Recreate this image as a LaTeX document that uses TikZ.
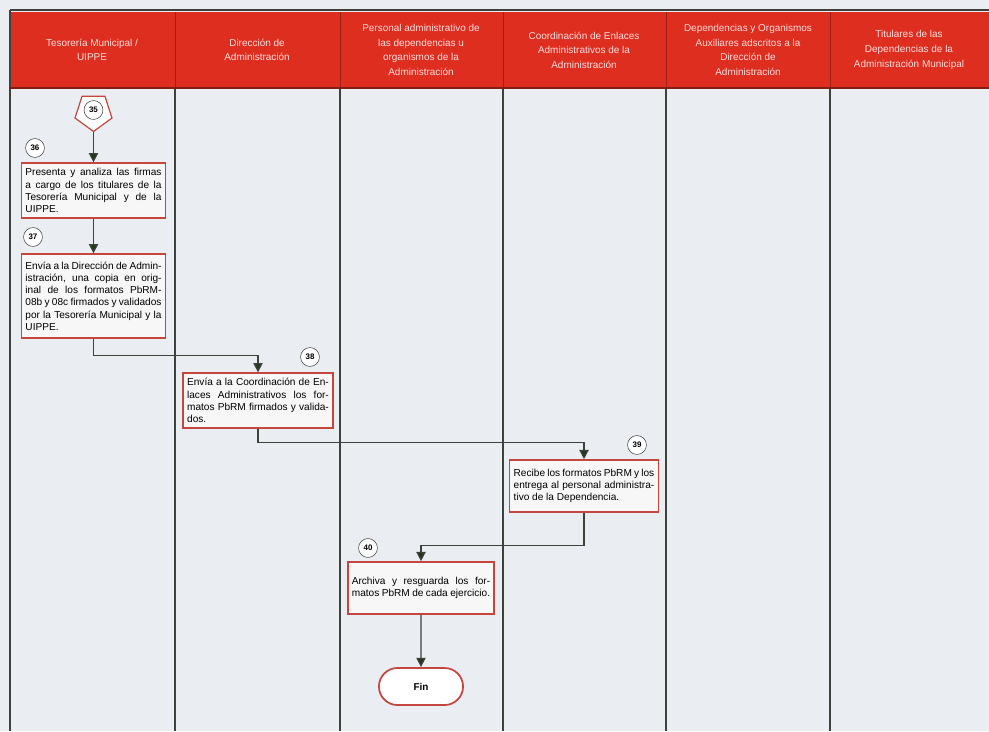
\documentclass[tikz,border=0pt]{standalone}
\usepackage{fontspec}
\setmainfont{Liberation Sans}
\usetikzlibrary{arrows.meta,shapes.geometric,shapes.misc}
\definecolor{hdrred}{RGB}{222,46,32}
\definecolor{boxred}{RGB}{196,70,60}
\definecolor{fondo}{RGB}{234,237,242}
\definecolor{linea}{RGB}{62,64,60}
\definecolor{flecha}{RGB}{32,56,24}
\begin{document}
\begin{tikzpicture}[x=0.02646cm,y=-0.02646cm,
  paso/.style={draw=boxred,line width=1.1pt,fill=white!94!gray,text width=3.6cm,inner sep=3pt,align=justify,font=\fontsize{7.6}{9.2}\selectfont},
  num/.style={circle,draw=linea,fill=white,inner sep=0pt,minimum size=0.5cm,font=\fontsize{6}{6}\selectfont\bfseries},
  flujo/.style={draw=linea,line width=1pt,-{Triangle[length=7pt,width=7pt,fill=flecha]}}]
\fill[fondo] (0,0) rectangle (989,731);
\useasboundingbox (0,0) rectangle (989,731);
\fill[hdrred] (10,12) rectangle (989,88);
\draw[linea,line width=0.8pt] (10,10) -- (989,10) (10,10) -- (10,731);
\foreach \x in {175,340,503,666,830} {\draw[hdrred!70!black] (\x,12) -- (\x,88); \draw[linea,line width=0.8pt] (\x,88) -- (\x,731);}
\draw[hdrred!60!black,line width=1pt] (10,88) -- (989,88);
\foreach \x/\t in {92/{Tesorería Municipal /\\UIPPE},257/{Dirección de\\Administración},421/{Personal administrativo de\\las dependencias u\\organismos de la\\Administración},584/{Coordinación de Enlaces\\Administrativos de la\\Administración},748/{Dependencias y Organismos\\Auxiliares adscritos a la\\Dirección de\\Administración},909/{Titulares de las\\Dependencias de la\\Administración Municipal}}
  {\node[align=center,text=white!85!hdrred,font=\fontsize{7.5}{11}\selectfont] (h\x) at (\x,50) {\t};}
\node[regular polygon,regular polygon sides=5,shape border rotate=180,draw=boxred,line width=0.9pt,fill=white,minimum size=1.03cm,inner sep=0pt] (c35) at (93.5,112) {};
\node[num] (n35) at (93.5,110) {35};
\node[paso,minimum height=1.45cm] (b36) at (93.5,190.5) {Presenta y analiza las firmas a cargo de los titulares de la Tesorería Municipal y de la UIPPE.};
\node[paso,minimum height=2.22cm] (b37) at (93.5,296) {Envía a la Dirección de Administración, una copia en original de los formatos PbRM-08b y 08c firmados y validados por la Tesorería Municipal y la UIPPE.};
\node[paso,text width=3.75cm,minimum height=1.45cm] (b38) at (258,400.5) {Envía a la Coordinación de Enlaces Administrativos los formatos PbRM firmados y validados.};
\node[paso,text width=3.72cm,minimum height=1.38cm] (b39) at (584,486) {Recibe los formatos PbRM y los entrega al personal administrativo de la Dependencia.};
\node[paso,text width=3.66cm,minimum height=1.38cm] (b40) at (421,588) {Archiva y resguarda los formatos PbRM de cada ejercicio.};
\node[rounded rectangle,draw=boxred,line width=1.3pt,fill=white,minimum width=2.46cm,minimum height=0.98cm,font=\fontsize{7.5}{8}\selectfont\bfseries] (fin) at (421,686.5) {Fin};
\node[num] (n36) at (35,148) {36};
\node[num] (n37) at (33,237) {37};
\node[num] (n38) at (310,357) {38};
\node[num] (n39) at (637,445) {39};
\node[num] (n40) at (368,548) {40};
\draw[flujo] (c35.south) -- (b36.north);
\draw[flujo] (b36) -- (b37);
\draw[flujo] (b37.south) -- ++(0,17) -| (b38.north);
\draw[flujo] (b38.south) -- ++(0,14) -| (b39.north);
\draw[flujo] (b39.south) -- ++(0,33) -| (b40.north);
\draw[flujo] (b40) -- (fin);
\end{tikzpicture}
\end{document}
